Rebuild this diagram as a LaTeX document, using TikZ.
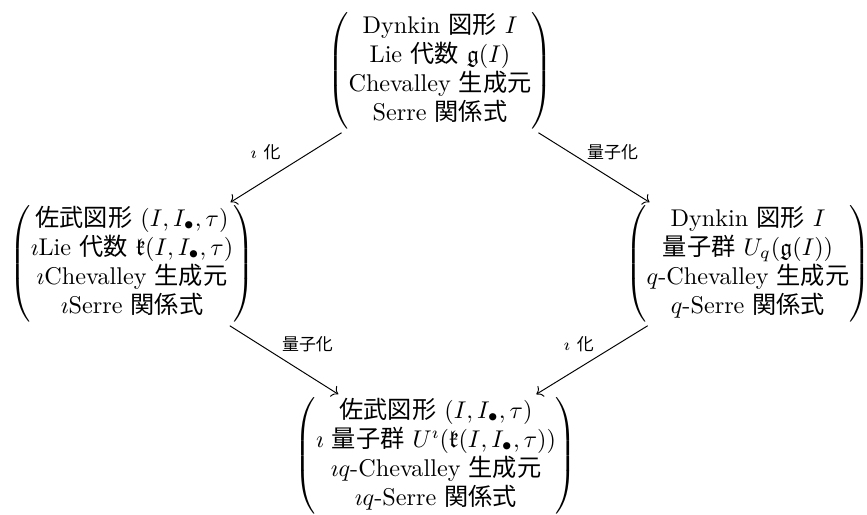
\documentclass[tikz,border=0pt]{standalone}
\usepackage{amssymb}
\usepackage{fontspec}
\newfontfamily\jp{Noto Sans CJK JP}
\newcommand{\J}[1]{\smash{\jp #1}}
\usetikzlibrary{arrows.meta}
\newcommand{\pbox}[1]{$\left(\begin{tabular}{@{}c@{}}#1\end{tabular}\right)$}
\begin{document}
\begin{tikzpicture}[x=0.413pt,y=-0.413pt,
  box/.style={inner sep=0pt, outer sep=1.5pt},
  lab/.style={font=\scriptsize, inner sep=2pt},
  arr/.style={-{To}, line width=0.4pt}]
\useasboundingbox (0,0) rectangle (867,514);
\node[box] (top) at (440,71) {\pbox{Dynkin \J{図形} $I$\\ Lie \J{代数} $\mathfrak{g}(I)$\\ Chevalley \J{生成元}\\ Serre \J{関係式}}};
\node[box] (left) at (132,264) {\pbox{\J{佐武図形} $(I,I_\bullet,\tau)$\\ $\imath$Lie \J{代数} $\mathfrak{k}(I,I_\bullet,\tau)$\\ $\imath$Chevalley \J{生成元}\\ $\imath$Serre \J{関係式}}};
\node[box] (right) at (748,264) {\pbox{Dynkin \J{図形} $I$\\ \J{量子群} $U_q(\mathfrak{g}(I))$\\ $q$-Chevalley \J{生成元}\\ $q$-Serre \J{関係式}}};
\node[box] (bot) at (436,456) {\pbox{\J{佐武図形} $(I,I_\bullet,\tau)$\\ $\imath$ \J{量子群} $U^\imath(\mathfrak{k}(I,I_\bullet,\tau))$\\ $\imath q$-Chevalley \J{生成元}\\ $\imath q$-Serre \J{関係式}}};
\draw[arr] (top) -- node[lab, above left, yshift=1pt] {$\imath$ {\jp 化}} (left);
\draw[arr] (top) -- node[lab, above right, xshift=-5pt, yshift=1pt] {{\jp 量子化}} (right);
\draw[arr] (left) -- node[lab, above right, xshift=-3pt, yshift=1pt] {{\jp 量子化}} (bot);
\draw[arr] (right) -- node[lab, above left, xshift=3pt, yshift=1pt] {$\imath$ {\jp 化}} (bot);
\end{tikzpicture}
\end{document}
